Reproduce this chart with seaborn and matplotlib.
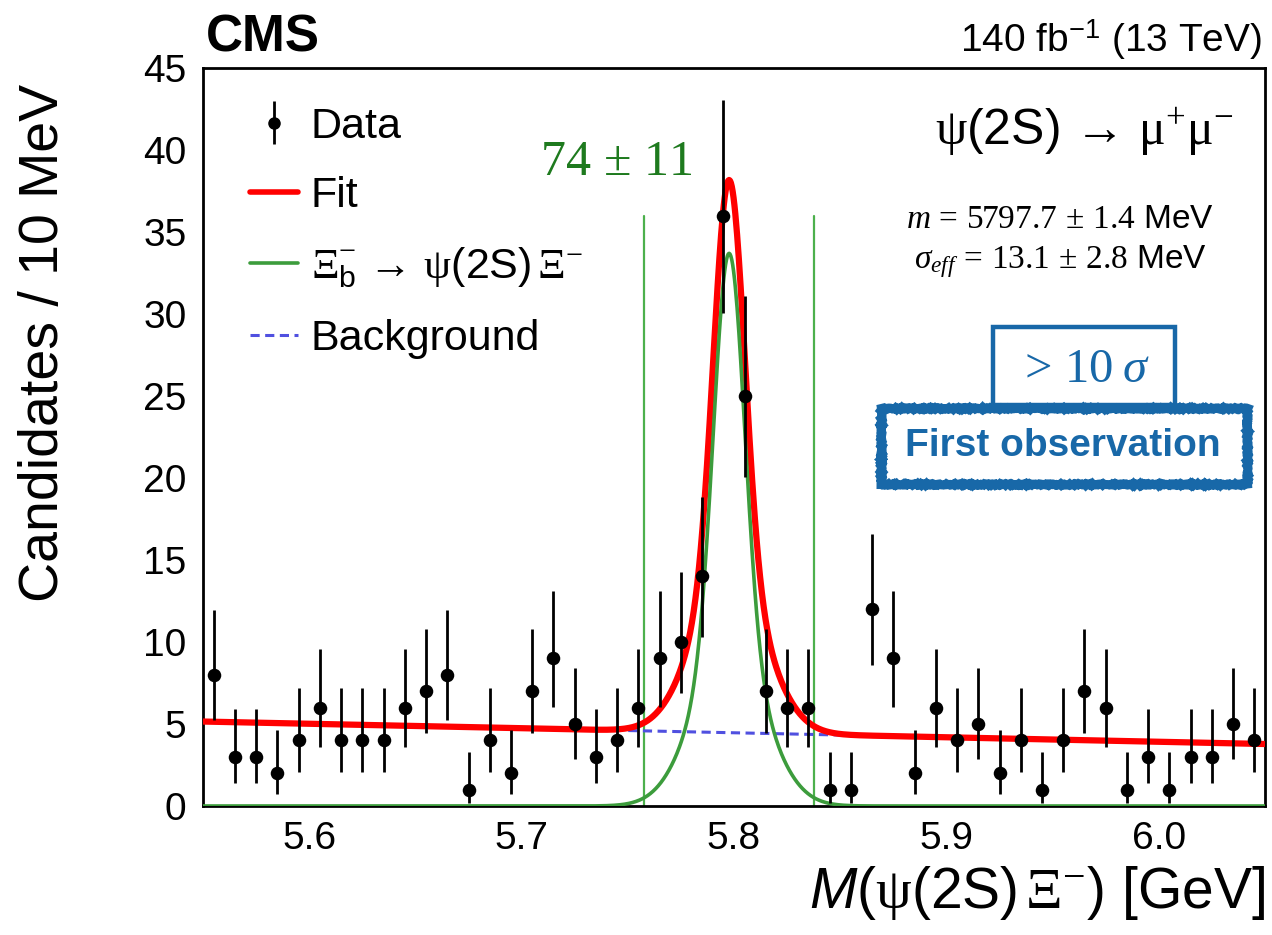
import numpy as np
import pandas as pd
import matplotlib
matplotlib.use("Agg")
import matplotlib.pyplot as plt
import seaborn as sns
from matplotlib.ticker import MultipleLocator, FormatStrFormatter
from matplotlib.patches import Rectangle
from matplotlib.lines import Line2D
from matplotlib.legend_handler import HandlerTuple

# ---------------- data ----------------
BIN_LOW = 5.55          # GeV
BIN_WIDTH = 0.01        # GeV (10 MeV)
counts = [8, 3, 3, 2, 4, 6, 4, 4, 4, 6,
          7, 8, 1, 4, 2, 7, 9, 5, 3, 4,
          6, 9, 10, 14, 36, 25, 7, 6, 6, 1,
          1, 12, 9, 2, 6, 4, 5, 2, 4, 1,
          4, 7, 6, 1, 3, 1, 3, 3, 5, 4]

# fit model parameters
bkg_left, bkg_right = 5.15, 3.78      # background at 5.55 and 6.05 GeV
sig_mean = 5.7977
sig_core_amp, sig_core_width = 24.2, 0.0072
sig_tail_amp, sig_tail_width = 9.5, 0.0165
window_half = 0.040
window_top = 36.0

x_ticks = [5.6, 5.7, 5.8, 5.9, 6.0]

# ---------------- style ----------------
sns.set_theme(style="white")
plt.rcParams.update({
    "font.family": ["Liberation Sans", "DejaVu Sans"],
    "mathtext.fontset": "custom",
    "mathtext.rm": "Liberation Serif",
    "mathtext.it": "Liberation Serif:italic",
    "mathtext.bf": "Liberation Serif:bold",
    "mathtext.sf": "Liberation Sans",
    "mathtext.tt": "Liberation Sans:italic",
    "axes.edgecolor": "black",
    "axes.linewidth": 2.0,
    "text.color": "black",
    "axes.labelcolor": "black",
    "xtick.color": "black",
    "ytick.color": "black",
})

W, H = 1272, 935
fig = plt.figure(figsize=(W / 100, H / 100), dpi=100)
ax = fig.add_axes([203 / W, 1 - 806 / H, (1265 - 203) / W, (806 - 68) / H])

# ---------------- derived arrays ----------------
n = np.array(counts, dtype=float)
centers = BIN_LOW + BIN_WIDTH * (np.arange(len(counts)) + 0.5)
err_up = np.sqrt(n + 0.75) + 1.0
err_lo = n - n * (1 - 1 / (9 * n) - 1 / (3 * np.sqrt(n))) ** 3
data_df = pd.DataFrame({"mass": centers, "count": n})

xg = np.linspace(5.55, 6.05, 1200)
bkg = bkg_left + (bkg_right - bkg_left) * (xg - 5.55) / 0.5
sig = (sig_core_amp * np.exp(-0.5 * ((xg - sig_mean) / sig_core_width) ** 2)
       + sig_tail_amp * np.exp(-0.5 * ((xg - sig_mean) / sig_tail_width) ** 2))
curve_df = pd.DataFrame({"mass": xg, "bkg": bkg, "sig": sig, "fit": bkg + sig})

GREEN = "#3c9c3c"
BLUE_D = "#5050e0"
STAMP = "#1868a8"

# window lines
for xv in (sig_mean - window_half, sig_mean + window_half):
    ax.plot([xv, xv], [0, window_top], color="#4cb04c", lw=1.6, zorder=1)

sns.lineplot(data=curve_df, x="mass", y="bkg", ax=ax, color=BLUE_D, lw=2.2,
             linestyle=(0, (3, 1.8)), zorder=2)
sns.lineplot(data=curve_df, x="mass", y="fit", ax=ax, color="red", lw=4.5, zorder=3)
sns.lineplot(data=curve_df, x="mass", y="sig", ax=ax, color=GREEN, lw=2.6, zorder=4)

eb = ax.errorbar(data_df["mass"], data_df["count"], yerr=[err_lo, err_up], fmt="none",
                 ecolor="black", elinewidth=2.0, capsize=0, zorder=5)
sns.scatterplot(data=data_df, x="mass", y="count", ax=ax, color="black", s=95,
                edgecolor="black", linewidth=0, zorder=6)

# ---------------- axes ----------------
ax.set_xlim(5.55, 6.05)
ax.set_ylim(0, 45)
ax.set_xticks(x_ticks)
ax.xaxis.set_major_formatter(FormatStrFormatter("%.1f"))
ax.xaxis.set_minor_locator(MultipleLocator(0.02))
ax.yaxis.set_major_locator(MultipleLocator(5))
ax.yaxis.set_minor_locator(MultipleLocator(1))
ax.tick_params(which="both", direction="in", top=False, right=False,
               color="black", labelcolor="black", width=1.6, labelsize=28)
ax.tick_params(which="major", length=16)
ax.tick_params(which="minor", length=8)
ax.tick_params(axis="x", pad=11)
ax.tick_params(axis="y", pad=12)
for s in ax.spines.values():
    s.set_visible(True)
    s.set_color("black")
    s.set_linewidth(2.0)

ax.set_xlabel(r"$\mathtt{M}$($\mathrm{\psi}$(2S)$\,\mathrm{\Xi}^{-}$) [GeV]",
              fontsize=41, loc="right")
ax.xaxis.set_label_coords(1.0, -0.078)
ax.set_ylabel("Candidates / 10 MeV", fontsize=40, loc="top")
ax.yaxis.set_label_coords(-0.125, 0.978)

# ---------------- legend ----------------
h_mark = Line2D([], [], color="black", marker="o", ms=8, lw=0)
h_fit = Line2D([], [], color="red", lw=4)
h_sig = Line2D([], [], color=GREEN, lw=2.6)
h_bkg = Line2D([], [], color=BLUE_D, lw=2.2, linestyle=(0, (3, 1.8)))
leg = ax.legend([(eb, h_mark), h_fit, h_sig, h_bkg],
                ["Data", "Fit",
                 r"$\mathrm{\Xi}_{\mathsf{b}}^{-}$ → $\mathrm{\psi}$(2S)$\,\mathrm{\Xi}^{-}$",
                 "Background"],
                handler_map={tuple: HandlerTuple(ndivide=1)},
                loc="upper left", bbox_to_anchor=(0.008, 1.0), frameon=False,
                fontsize=31, handlelength=1.1, handletextpad=0.3, labelspacing=0.68)

# ---------------- texts ----------------
fig.text(206 / W, 1 - 52 / H, "CMS", fontsize=37, fontweight="bold", va="baseline", ha="left")
fig.text(1262 / W, 1 - 52 / H, r"140 fb$^{\mathsf{-1}}$ (13 TeV)", fontsize=28,
         va="baseline", ha="right")
fig.text(1084 / W, 1 - 132 / H, r"$\mathrm{\psi}$(2S) → $\mathrm{\mu^{+}\mu^{-}}$", fontsize=36,
         va="center", ha="center")
fig.text(1060 / W, 1 - 220 / H, r"$m\,=\,5797.7\,\pm\,1.4$ MeV", fontsize=24, va="center",
         ha="center")
fig.text(1060 / W, 1 - 262 / H, r"$\sigma_{eff}\,=\,13.1\,\pm\,2.8$ MeV", fontsize=24,
         va="center", ha="center")
fig.text(616 / W, 1 - 162 / H, r"$74\,\pm\,11$", fontsize=36, color="#1e7a1e", va="center",
         ha="center")

# stamp boxes
r1 = Rectangle((993 / W, 1 - 405 / H), 182 / W, 78 / H, transform=fig.transFigure,
               fc="white", ec=STAMP, lw=3.2, zorder=10)
fig.add_artist(r1)
fig.text(1084 / W, 1 - 370 / H, r"$>\,10\;\sigma$", fontsize=35, color=STAMP,
         va="center", ha="center", zorder=11)
r2 = Rectangle((881 / W, 1 - 484 / H), 366 / W, 76 / H, transform=fig.transFigure,
               fc="white", ec=STAMP, lw=6.5, zorder=12)
r2.set_sketch_params(scale=0.6, length=1.5, randomness=4.0)
fig.add_artist(r2)
fig.text(1063 / W, 1 - 446 / H, "First observation", fontsize=28, fontweight="bold",
         color=STAMP, va="center", ha="center", zorder=13)

fig.savefig("out.png", dpi=100)
